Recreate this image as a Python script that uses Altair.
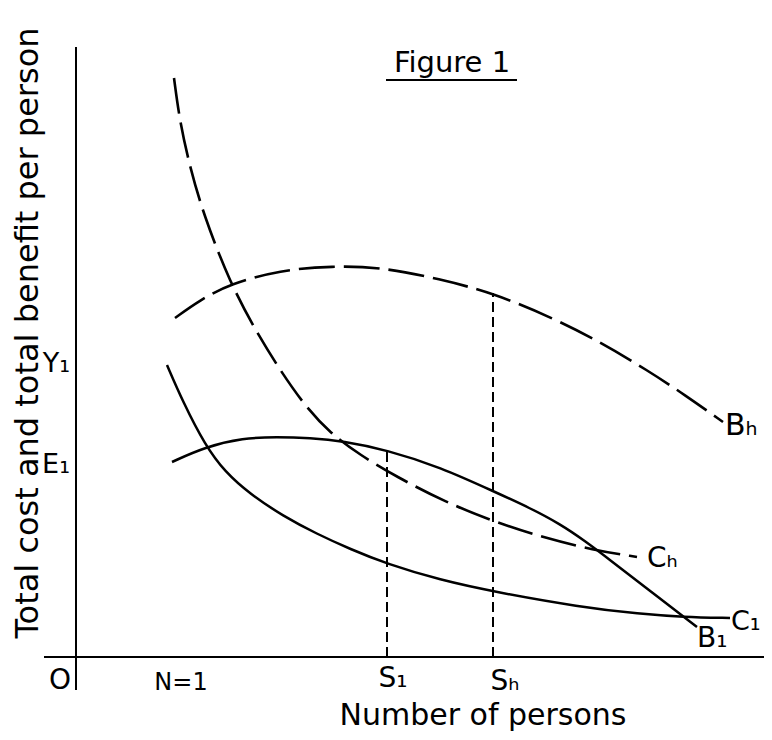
import altair as alt
import pandas as pd

# ---- curve values (x: number of persons, y: cost / benefit per person; arbitrary units) ----
ch_x = [9.8, 10.4, 11.4, 12.7, 15.4, 18.1, 20.4, 22.9, 25.4, 28.4, 32.1, 36.9, 41.9, 46.9, 51.7, 56.1]
ch_y = [57.9, 53.4, 49.0, 44.4, 37.4, 32.4, 28.7, 25.1, 22.4, 20.2, 18.0, 15.5, 13.5, 11.9, 10.7, 10.0]

bh_x = [9.9, 12.4, 15.4, 20.4, 25.7, 30.4, 36.4, 41.7, 47.7, 52.4, 57.1, 60.9, 64.7]
bh_y = [33.9, 35.7, 37.3, 38.7, 39.1, 39.0, 37.8, 36.4, 33.9, 31.5, 28.7, 26.2, 23.5]

b1_x = [9.6, 12.9, 16.7, 20.1, 23.4, 26.7, 31.1, 36.4, 41.9, 45.4, 48.4, 50.9, 53.4, 57.4, 62.1]
b1_y = [19.5, 21.0, 21.9, 22.0, 21.9, 21.6, 20.7, 19.0, 16.5, 14.9, 13.3, 11.6, 9.7, 6.6, 3.0]

c1_x = [9.1, 10.7, 12.9, 14.9, 17.4, 20.7, 24.1, 27.4, 31.1, 36.4, 41.9, 50.4, 56.4, 60.7, 65.4]
c1_y = [29.2, 25.5, 21.2, 18.5, 16.3, 14.1, 12.3, 10.8, 9.3, 7.7, 6.5, 5.0, 4.3, 4.0, 3.9]

# equilibrium sizes S1, Sh and the benefit at each
s_names = ["S\u2081", "S\u2095"]
s_x = [31.1, 41.7]
s_top = [20.7, 36.4]

# axis extents
x_min, x_max = -3.2, 68.8
y_min, y_max = -3.3, 61.0

XD = [-6.8, 68.8]
YD = [-7.5, 64.9]


def xs(f="x"):
    return alt.X(f + ":Q", scale=alt.Scale(domain=XD, nice=False, zero=False), axis=None)


def ys(f="y"):
    return alt.Y(f + ":Q", scale=alt.Scale(domain=YD, nice=False, zero=False), axis=None)


def frame(name, x, y):
    return pd.DataFrame({"series": name, "x": x, "y": y, "i": list(range(len(x)))})


solid_df = pd.concat([frame("B1", b1_x, b1_y), frame("C1", c1_x, c1_y)])
dashed_df = pd.concat([frame("Bh", bh_x, bh_y), frame("Ch", ch_x, ch_y)])

solid = alt.Chart(solid_df).mark_line(
    color="black", strokeWidth=2.5, interpolate="basis"
).encode(x=xs(), y=ys(), detail="series:N", order="i:Q")

dashed = alt.Chart(dashed_df).mark_line(
    color="black", strokeWidth=2.6, interpolate="basis", strokeDash=[36, 9]
).encode(x=xs(), y=ys(), detail="series:N", order="i:Q")

vl_df = pd.DataFrame({"x": s_x, "y0": [0, 0], "y1": s_top})
vlines = alt.Chart(vl_df).mark_rule(
    color="black", strokeWidth=2, strokeDash=[10, 5]
).encode(x=xs(), y=ys("y0"), y2="y1:Q")

axes_df = pd.DataFrame({
    "x": [x_min, 0.0, 31.0],
    "x2": [x_max, 0.0, 44.1],
    "y": [0.0, y_min, 57.7],
    "y2": [0.0, y_max, 57.7],
})
axes = alt.Chart(axes_df).mark_rule(color="black", strokeWidth=2).encode(
    x=xs(), x2="x2:Q", y=ys(), y2="y2:Q"
)

FONT = "DejaVu Sans"

center_df = pd.DataFrame({
    "t": ["Figure 1", "O", "N=1", s_names[0], s_names[1], "Number of persons"],
    "x": [37.6, -1.6, 10.5, 31.7, 42.9, 40.7],
    "y": [58.5, -3.2, -3.3, -3.0, -3.3, -6.8],
    "s": [29, 28, 24, 28, 28, 30],
})
right_df = pd.DataFrame({
    "t": ["Y\u2081", "E\u2081"],
    "x": [-0.6, -0.6],
    "y": [28.5, 18.4],
    "s": [27, 27],
})
left_df = pd.DataFrame({
    "t": ["B\u2095", "C\u2095", "C\u2081", "B\u2081"],
    "x": [64.9, 57.1, 65.5, 62.1],
    "y": [22.2, 9.0, 2.7, 1.0],
    "s": [30, 28, 27, 28],
})
title_df = pd.DataFrame({
    "t": ["Total cost and total benefit per person"],
    "x": [-4.85],
    "y": [32.4],
    "s": [32],
})


def text_layer(df, align, baseline="alphabetic", angle=0):
    return alt.Chart(df).mark_text(
        align=align, baseline=baseline, font=FONT, color="black", angle=angle
    ).encode(x=xs(), y=ys(), text="t:N", size=alt.Size("s:Q", scale=None, legend=None))


texts = (
    text_layer(center_df, "center")
    + text_layer(right_df, "right")
    + text_layer(left_df, "left")
    + text_layer(title_df, "center", baseline="middle", angle=270)
)

chart = (
    alt.layer(axes, vlines, dashed, solid, texts)
    .properties(width=756, height=724, padding=0, background="white",
                autosize=alt.AutoSizeParams(type="none"))
    .configure_view(strokeWidth=0)
)

chart.save("out.html", embed_options={"renderer": "svg", "actions": False})
